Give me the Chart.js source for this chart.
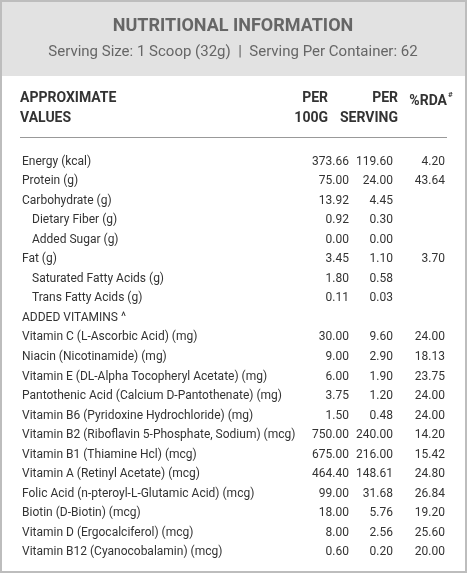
<!DOCTYPE html>
<html><head><meta charset="utf-8">
<script src="https://cdn.jsdelivr.net/npm/chart.js@4/dist/chart.umd.min.js"></script>
<style>html,body{margin:0;padding:0;background:#fff}#w{position:relative;width:467px;height:573px}</style>
</head><body><div id="w"><canvas id="c" width="467" height="573"></canvas></div>
<script>
const title = "NUTRITIONAL INFORMATION";
const subtitle = "Serving Size: 1 Scoop (32g)  |  Serving Per Container: 62";
const rowLabels = ["Energy (kcal)","Protein (g)","Carbohydrate (g)","Dietary Fiber (g)","Added Sugar (g)","Fat (g)","Saturated Fatty Acids (g)","Trans Fatty Acids (g)","ADDED VITAMINS ^","Vitamin C (L-Ascorbic Acid) (mg)","Niacin (Nicotinamide) (mg)","Vitamin E (DL-Alpha Tocopheryl Acetate) (mg)","Pantothenic Acid (Calcium D-Pantothenate) (mg)","Vitamin B6 (Pyridoxine Hydrochloride) (mg)","Vitamin B2 (Riboflavin 5-Phosphate, Sodium) (mcg)","Vitamin B1 (Thiamine Hcl) (mcg)","Vitamin A (Retinyl Acetate) (mcg)","Folic Acid (n-pteroyl-L-Glutamic Acid) (mcg)","Biotin (D-Biotin) (mcg)","Vitamin D (Ergocalciferol) (mcg)","Vitamin B12 (Cyanocobalamin) (mcg)"];
const indented = [3,4,6,7];
const per100g = ["373.66","75.00","13.92","0.92","0.00","3.45","1.80","0.11","","30.00","9.00","6.00","3.75","1.50","750.00","675.00","464.40","99.00","18.00","8.00","0.60"];
const perServing = ["119.60","24.00","4.45","0.30","0.00","1.10","0.58","0.03","","9.60","2.90","1.90","1.20","0.48","240.00","216.00","148.61","31.68","5.76","2.56","0.20"];
const rda = ["4.20","43.64","","","","3.70","","","","24.00","18.13","23.75","24.00","24.00","14.20","15.42","24.80","26.84","19.20","25.60","20.00"];

const tablePlugin = {
  id:'tbl',
  afterDraw(chart){
    const ctx = chart.ctx, y = chart.scales.y;
    ctx.save();
    ctx.fillStyle='#e2e2e2'; ctx.fillRect(0,0,467,76);
    ctx.strokeStyle='#bdbdbd'; ctx.lineWidth=2; ctx.strokeRect(1,1,465,571);
    ctx.fillStyle='#666'; ctx.textAlign='center'; ctx.textBaseline='middle';
    ctx.font='bold 18px Roboto'; ctx.fillText(title,233,26);
    ctx.font='15px Roboto'; ctx.fillText(subtitle,233,52);
    ctx.fillStyle='#333'; ctx.font='bold 14px Roboto'; ctx.textAlign='left';
    ctx.fillText("APPROXIMATE",20,98); ctx.fillText("VALUES",20,118);
    ctx.textAlign='right';
    ctx.fillText("PER",328,98); ctx.fillText("100G",328,118);
    ctx.fillText("PER",398,98); ctx.fillText("SERVING",398,118);
    ctx.fillText("%RDA",447,101);
    ctx.font='bold 8px Roboto'; ctx.textAlign='left'; ctx.fillText("#",448,95);
    ctx.strokeStyle='#999'; ctx.lineWidth=1;
    ctx.beginPath(); ctx.moveTo(20,137.5); ctx.lineTo(447,137.5); ctx.stroke();
    ctx.font='12px Roboto'; ctx.fillStyle='#333';
    rowLabels.forEach((l,i)=>{
      const py = y.getPixelForValue(i);
      ctx.textAlign='left';
      ctx.fillText(l, indented.includes(i)?32:22, py);
      ctx.textAlign='right';
      ctx.fillText(per100g[i],349,py);
      ctx.fillText(perServing[i],393,py);
      ctx.fillText(rda[i],445,py);
    });
    ctx.restore();
  }
};
new Chart(document.getElementById('c'),{
  type:'bar',
  data:{labels:rowLabels,datasets:[{data:rowLabels.map(()=>null)}]},
  options:{indexAxis:'y',responsive:false,animation:false,
    layout:{padding:{top:152,bottom:11,left:0,right:0}},
    plugins:{legend:{display:false},tooltip:{enabled:false}},
    scales:{y:{display:false},x:{display:false}}},
  plugins:[tablePlugin]
});
</script></body></html>
